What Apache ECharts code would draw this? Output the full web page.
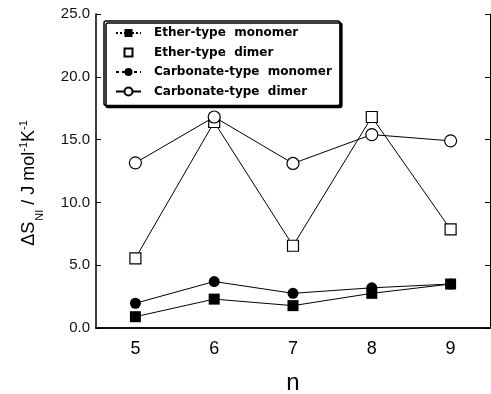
<!DOCTYPE html>
<html><head><meta charset="utf-8">
<script src="https://cdn.jsdelivr.net/npm/echarts@6/dist/echarts.min.js"></script>
<style>html,body{margin:0;padding:0;background:#fff}#c{width:491px;height:394px}</style>
</head><body><div id="c"></div>
<script>
var categories = ['5', '6', '7', '8', '9'];
var etherMonomer = [0.9, 2.3, 1.78, 2.76, 3.5];
var etherDimer = [5.55, 16.4, 6.55, 16.8, 7.85];
var carbonateMonomer = [1.97, 3.7, 2.76, 3.2, 3.5];
var carbonateDimer = [13.15, 16.8, 13.1, 15.4, 14.9];
var seriesNames = ['Ether-type  monomer', 'Ether-type  dimer', 'Carbonate-type  monomer', 'Carbonate-type  dimer'];
var yTicks = [0, 5, 10, 15, 20, 25];

var chart = echarts.init(document.getElementById('c'));
var font = 'Liberation Sans, Arial, sans-serif';
function mk(name, data, symbol, filled, size, z) {
  return {
    name: name, type: 'line', data: data, symbol: symbol, symbolSize: size,
    xAxisIndex: 0, yAxisIndex: 0, z: z,
    lineStyle: {color: '#000', width: 1},
    itemStyle: {color: filled ? '#000' : '#fff', borderColor: '#000', borderWidth: filled ? 0 : 1.2},
    emphasis: {disabled: true}, animation: false
  };
}
chart.setOption({
  animation: false,
  grid: {left: 96, right: 1, top: 14, bottom: 66, outerBoundsMode: 'none', containLabel: false},
  legend: {
    orient: 'vertical', left: 104, top: 21,
    padding: [6, 8, 8, 11], itemGap: 7.5, itemWidth: 25, itemHeight: 10,
    backgroundColor: '#fff', borderColor: '#000', borderWidth: 1.5, borderRadius: 2,
    shadowColor: '#000', shadowOffsetX: 2, shadowOffsetY: 2, shadowBlur: 0,
    textStyle: {fontFamily: 'DejaVu Sans', fontWeight: 'bold', fontSize: 12, color: '#000', padding: [0, 0, 0, 8]},
    data: [
      {name: seriesNames[0], lineStyle: {type: 'dotted'}},
      {name: seriesNames[1], lineStyle: {width: 0}},
      {name: seriesNames[2], lineStyle: {type: [3, 3]}},
      {name: seriesNames[3]}
    ]
  },
  xAxis: [{
    type: 'category', data: categories, boundaryGap: true,
    axisLine: {lineStyle: {color: '#000', width: 1.5}},
    axisTick: {inside: true, alignWithLabel: true, length: 7, lineStyle: {color: '#000'}},
    axisLabel: {fontFamily: font, fontSize: 18, color: '#000', margin: 12},
    name: 'n', nameLocation: 'middle', nameGap: 43,
    nameTextStyle: {fontFamily: font, fontSize: 24, color: '#000'}
  }, {
    type: 'category', data: categories, position: 'top', boundaryGap: true,
    axisLine: {show: true, lineStyle: {color: '#000', width: 1.5}},
    axisTick: {inside: true, alignWithLabel: true, length: 5, lineStyle: {color: '#000'}},
    axisLabel: {show: false}
  }],
  yAxis: [{
    type: 'value', min: 0, max: 25, interval: 5,
    splitLine: {show: false},
    axisLine: {show: true, lineStyle: {color: '#000', width: 1.5}},
    axisTick: {show: true, inside: true, length: 5, lineStyle: {color: '#000'}},
    axisLabel: {fontFamily: font, fontSize: 15, color: '#111', margin: 6,
      formatter: function (v) { return yTicks.indexOf(v) >= 0 ? v.toFixed(1) : ''; }},
    name: '{a|ΔS}{s|NI}{a| / J mol}{p|-1}{a|K}{p|-1}',
    nameLocation: 'middle', nameGap: 54, nameRotate: 90,
    nameTextStyle: {
      fontFamily: font, color: '#000', padding: [0, 24, 0, 0],
      rich: {
        a: {fontFamily: font, fontSize: 18, color: '#000', lineHeight: 26},
        s: {fontFamily: font, fontSize: 11, color: '#000', lineHeight: 26, verticalAlign: 'bottom', padding: [0, 0, -3, 1]},
        p: {fontFamily: font, fontSize: 11, color: '#000', lineHeight: 26, verticalAlign: 'top', padding: [2, 0, 0, 0]}
      }
    }
  }, {
    type: 'value', min: 0, max: 25, interval: 5, position: 'right',
    splitLine: {show: false},
    axisLine: {show: true, lineStyle: {color: '#000', width: 1}},
    axisTick: {show: true, inside: true, length: 5, lineStyle: {color: '#000'}},
    axisLabel: {show: false}
  }],
  series: [
    mk(seriesNames[0], etherMonomer, 'rect', true, 11, 3),
    mk(seriesNames[1], etherDimer, 'rect', false, 11, 2),
    mk(seriesNames[2], carbonateMonomer, 'circle', true, 11, 3),
    mk(seriesNames[3], carbonateDimer, 'circle', false, 12, 4)
  ]
});
</script></body></html>
